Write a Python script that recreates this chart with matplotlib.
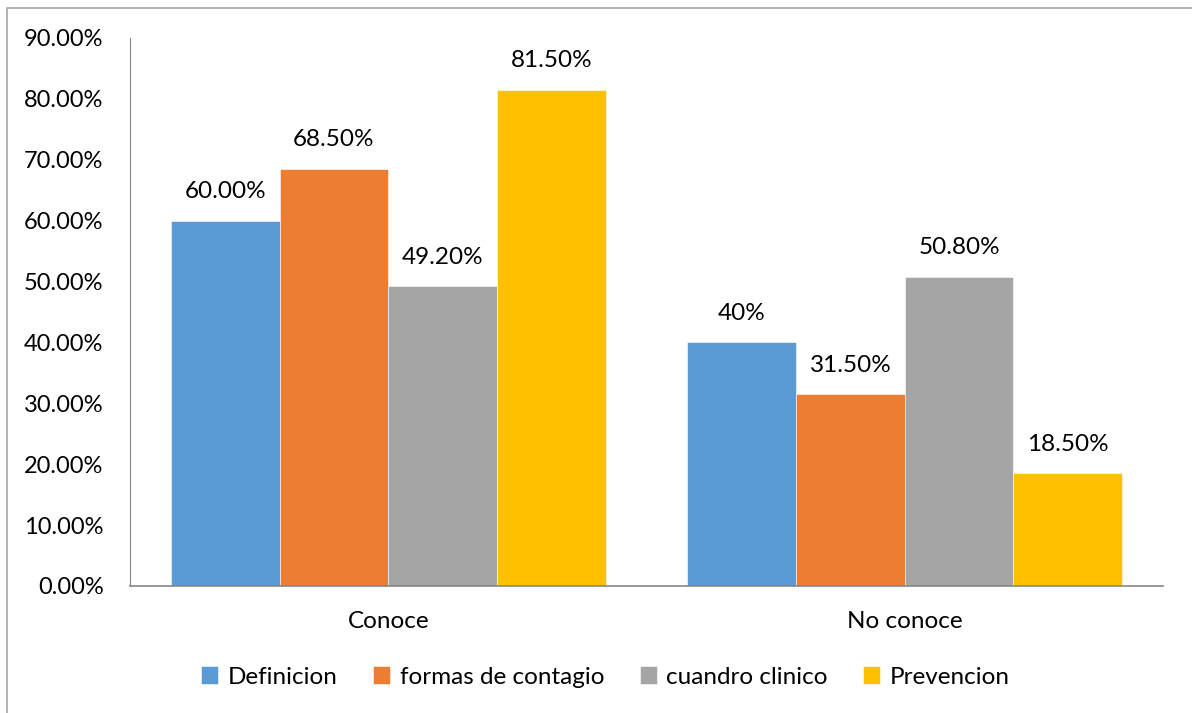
import numpy as np
import matplotlib.pyplot as plt
from matplotlib.patches import Rectangle

categories = ["Conoce", "No conoce"]
series = ["Definicion", "formas de contagio", "cuandro clinico", "Prevencion"]
values = [
    [60.0, 40.0],
    [68.5, 31.5],
    [49.2, 50.8],
    [81.5, 18.5],
]
labels = [
    ["60.00%", "40%"],
    ["68.50%", "31.50%"],
    ["49.20%", "50.80%"],
    ["81.50%", "18.50%"],
]
yticks = [0, 10, 20, 30, 40, 50, 60, 70, 80, 90]
colors = ["#5B9BD5", "#ED7D31", "#A5A5A5", "#FFC000"]

plt.rcParams['font.family'] = ['Lato', 'DejaVu Sans']
fs = 17

fig = plt.figure(figsize=(11.92, 7.13), dpi=100)
ax = fig.add_axes([130 / 1192, 1 - 586 / 713, 1033 / 1192, 548 / 713])

# figure frame
fig.patches.append(Rectangle((7 / 1192, -0.1), 1.2, 1 - 8 / 713 + 0.1,
                             transform=fig.transFigure, fill=False,
                             edgecolor="#A6A6A6", linewidth=1.2))

x = np.arange(len(categories))
w = 0.2105
for i, s in enumerate(series):
    pos = x + (i - 1.5) * w
    bars = ax.bar(pos, values[i], width=w, color=colors[i], label=s,
                  edgecolor="white", linewidth=0.4)
    for b, lab in zip(bars, labels[i]):
        ax.annotate(lab, (b.get_x() + b.get_width() / 2, b.get_height()),
                    xytext=(0, 21), textcoords="offset points",
                    ha="center", va="center", fontsize=fs + 0.5)

ax.set_xlim(-0.5, 1.5)
ax.set_ylim(0, 90)
ax.set_yticks(yticks)
ax.set_yticklabels([f"{t:.2f}%" for t in yticks], fontsize=fs)
ax.set_xticks(x)
ax.set_xticklabels(categories, fontsize=fs + 0.5)
ax.tick_params(axis="y", length=0, pad=19)
ax.tick_params(axis="x", length=0, pad=18)

for sp in ["top", "right"]:
    ax.spines[sp].set_visible(False)
ax.spines["left"].set_color("#868686")
ax.spines["bottom"].set_color("#868686")
ax.spines["bottom"].set_linewidth(1.2)

fig.legend(loc="center", bbox_to_anchor=(0.508, 1 - 677 / 713), ncol=4,
           frameon=False, fontsize=fs + 0.5, handlelength=0.7, handleheight=0.7,
           handletextpad=0.4, columnspacing=1.45)

fig.savefig("out.png", dpi=100)
